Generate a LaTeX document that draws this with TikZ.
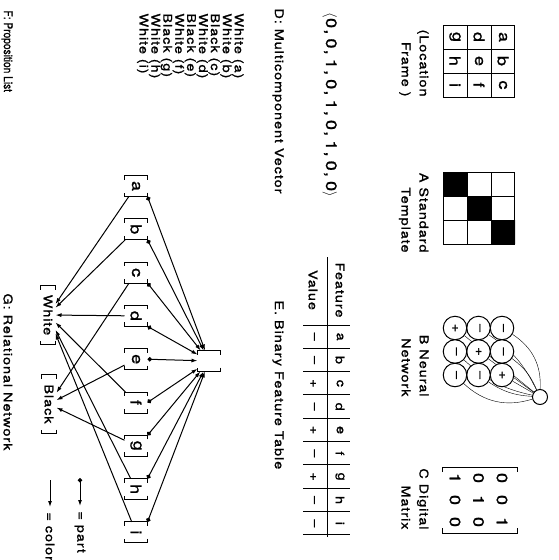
\documentclass[tikz,border=0pt]{standalone}
\usepackage{fontspec}
\setmainfont{TeX Gyre Heros}[FakeStretch=1.2,LetterSpace=8,FakeBold=1.2]
\newfontfamily\narrowfont{TeX Gyre Heros}[FakeStretch=0.85,FakeBold=1.2]
\usepackage{tikz}
\usetikzlibrary{arrows.meta,calc,backgrounds}

% square brackets round a named node
\newcommand\brackets[1]{%
  \draw ($(#1.north west)!4pt!(#1.north east)$) -- (#1.north west)
    -- (#1.south west) -- ($(#1.south west)!4pt!(#1.south east)$);
  \draw ($(#1.north east)!4pt!(#1.north west)$) -- (#1.north east)
    -- (#1.south east) -- ($(#1.south east)!4pt!(#1.south west)$);}

\begin{document}
\begin{tikzpicture}[x=1pt,y=1pt,line width=1pt,
  txt/.style={rotate=-90, inner sep=0pt, font=\fontsize{12}{14}\selectfont},
  capt/.style={txt, anchor=west},
  two/.style={txt, anchor=north east, align=right, font=\fontsize{12}{18}\selectfont},
  big/.style={txt, font=\fontsize{15}{15}\selectfont},
  unit/.style={txt, circle, draw, fill=white, minimum size=23.5pt},
  brk/.style={big, minimum width=20pt, minimum height=22pt},
  wide/.style={txt, minimum width=58pt, minimum height=14pt},
  partof/.style={{Circle[length=4.5pt]}-{Latex[length=6pt,width=4pt]}},
  colorof/.style={-{Latex[length=6pt,width=4pt]}}]
\useasboundingbox (0,0) rectangle (558,-560);

% location frame
\draw[shift={(443,-97)}] (0,0) grid[step=24] (72,72);
\foreach \l [count=\k from 0] in {a,...,i}
  \node[big] (loc\l) at ({503-24*int(\k/3)},{-37-24*mod(\k,3)}) {\l};
\node[two] (capl) at (429,-97) {(Location\\Frame )};

% A: template
\fill (443,-172) rectangle +(24,-24) (467,-196) rectangle +(24,-24)
  (491,-220) rectangle +(24,-24);
\draw[shift={(443,-244)}] (0,0) grid[step=24] (72,72);
\node[two] (capa) at (429,-253) {A Standard\\Template};

% B: neural network
\node[circle, draw, fill=white, minimum size=15pt, inner sep=0pt] (outu) at (540,-397) {};
\foreach \l/\s [count=\k from 0] in {a/\textendash,b/\textendash,c/+,d/\textendash,e/+,f/\textendash,g/+,h/\textendash,i/\textendash}
  \node[unit] (u\l) at ({502-23.5*int(\k/3)},{-328-23.5*mod(\k,3)}) {\s};
\begin{scope}[on background layer]
\foreach \l [count=\k from 0] in {a,...,i}{
  \pgfmathsetmacro\bnd{(2-int(\k/3)-mod(\k,3))*15}
  \draw (u\l) to[bend left=\bnd] (outu);
}
\end{scope}
\node[two] (capb) at (429,-397) {B Neural\\Network};

% C: digital matrix
\foreach \l/\s [count=\k from 0] in {a/0,b/0,c/1,d/0,e/1,f/0,g/1,h/0,i/0}
  \node[big] (m\l) at ({502-23.5*int(\k/3)},{-478-22*mod(\k,3)}) {\s};
\draw (442,-472) -- (442,-467) -- (517,-467) -- (517,-472);
\draw (442,-528) -- (442,-533) -- (517,-533) -- (517,-528);
\node[two] (capc) at (429,-530) {C Digital\\Matrix};

% D: vector
\node[capt, font=\fontsize{15}{15}\selectfont] (vec) at (330,-12)
  {$\Big\langle$0,\;0,\;1,\;0,\;1,\;0,\;1,\;0,\;0$\Big\rangle$};
\node[capt] (capd) at (278,-8) {D: Multicomponent Vector};

% E: feature table
\node[txt] (feat) at (340,-290) {Feature};
\node[txt] (val) at (313,-290) {Value};
\draw (327,-257) -- (327,-537);
\foreach \k in {0,...,9}
  \draw (303,{-325-23.33*\k}) -- (350,{-325-23.33*\k});
\foreach \l/\s [count=\k from 0] in {a/\textendash,b/\textendash,c/+,d/\textendash,e/+,f/\textendash,g/+,h/\textendash,i/\textendash}{
  \node[txt] (f\l) at (340,{-336.7-23.33*\k}) {\l};
  \node[txt] (v\l) at (313,{-336.7-23.33*\k}) {\s};
}
\node[capt] (cape) at (278,-300) {E. Binary Feature Table};

% F: proposition list
\node[txt, anchor=north west, align=left, font=\fontsize{12}{11.9}\selectfont] (props) at (244,-13)
  {White (a)\\White (b)\\Black (c)\\White (d)\\Black (e)\\White (f)\\Black (g)\\White (h)\\White (i)};
\node[capt, font=\narrowfont\fontsize{12}{14}\selectfont] (capf) at (7,-10) {F: Proposition List};

% G: relational network
\node[brk] (whole) at (209,-361) {};
\foreach \l [count=\k from 0] in {a,...,i}
  \node[brk] (\l) at (136,{-186-43.3*\k}) {\l};
\node[wide] (wht) at (48,-315) {White};
\node[wide] (blk) at (49,-404) {Black};
\foreach \n in {a,...,i,whole,wht,blk}
  \brackets{\n};
\foreach \n/\p in {a/north east,b/north east,c/north east,d/north east,e/north,f/north,g/north west,h/north west,i/north west}
  \draw[partof] (\n.\p) -- (whole);
\foreach \n/\c in {a/wht,b/wht,c/blk,d/wht,e/blk,f/wht,g/blk,h/wht,i/wht}
  \draw[colorof] (\n) -- (\c);
\node[capt] (capg) at (8,-293) {G: Relational Network};

% legend
\coordinate (p1) at (80,-478);
\coordinate (p2) at (80,-506);
\coordinate (c1) at (50,-480);
\coordinate (c2) at (50,-507);
\draw[partof] (p1) -- (p2);
\draw[colorof] (c1) -- (c2);
\node[capt] (lp) at (80,-511) {= part};
\node[capt] (lc) at (50,-512) {= color};
\end{tikzpicture}
\end{document}
